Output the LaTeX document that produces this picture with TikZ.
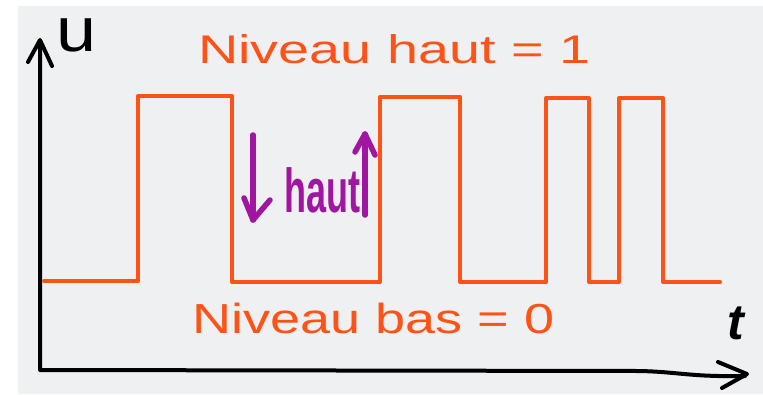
\documentclass[tikz,border=0pt]{standalone}
\usepackage{fontspec}
\usepackage{graphicx}
\setmainfont{Liberation Sans}
\definecolor{paper}{RGB}{238,240,242}
\definecolor{sigorange}{RGB}{255,82,22}
\definecolor{markpurple}{RGB}{160,22,160}
\begin{document}
\begin{tikzpicture}[x=1pt,y=-1pt,
  axisline/.style={draw=black,line width=4pt,line cap=round,line join=round},
  signal/.style={draw=sigorange,line width=4pt,line cap=round,line join=round},
  marker/.style={draw=markpurple,line width=5.5pt,line cap=round,line join=round},
  orangetext/.style={text=sigorange,inner sep=0pt,anchor=base west},
  blacktext/.style={text=black,inner sep=0pt,anchor=base west}]
\useasboundingbox (0,0) rectangle (763,394);
\fill[white] (0,0) rectangle (763,394);
\fill[paper] (18,6) rectangle (763,394);
% axes
\draw[axisline] (40,42) -- (40,370) -- (640,371) .. controls (680,372) and (690,377) .. (745,376);
\draw[axisline] (28,62) -- (40,40) -- (52,66);
\draw[axisline] (718,362) -- (747,374) -- (722,388);
% signal
\draw[signal] (44,281) -- (138,281) -- (138,96) -- (232,96) -- (232,282)
  -- (380,282) -- (380,97) -- (460,97) -- (460,282) -- (546,282) -- (546,98)
  -- (589,98) -- (589,282) -- (619,282) -- (619,98) -- (663,98) -- (663,282) -- (720,282);
% labels
\node[blacktext,font=\fontsize{62}{62}\selectfont] (ulabel) at (56,51) {\resizebox{40pt}{\height}{u}};
\node[blacktext,font=\fontsize{50}{50}\selectfont\bfseries\itshape] (tlabel) at (727,339) {t};
\node[orangetext,font=\fontsize{40}{40}\selectfont] (haut) at (198,63) {\resizebox{392pt}{\height}{Niveau haut = 1}};
\node[orangetext,font=\fontsize{42}{42}\selectfont] (bas) at (192,333) {\resizebox{362pt}{\height}{Niveau bas = 0}};
% purple marks
\draw[marker] (253,135) -- (253,220);
\draw[marker] (244,198) -- (253,220) -- (270,200);
\node[text=markpurple,inner sep=0pt,anchor=base west,font=\fontsize{62}{62}\selectfont\bfseries] (mid) at (284,212) {\resizebox{76pt}{\height}{haut}};
\draw[marker] (365,215) -- (365,134);
\draw[marker] (355,152) -- (365,134) -- (375,155);
\end{tikzpicture}
\end{document}
